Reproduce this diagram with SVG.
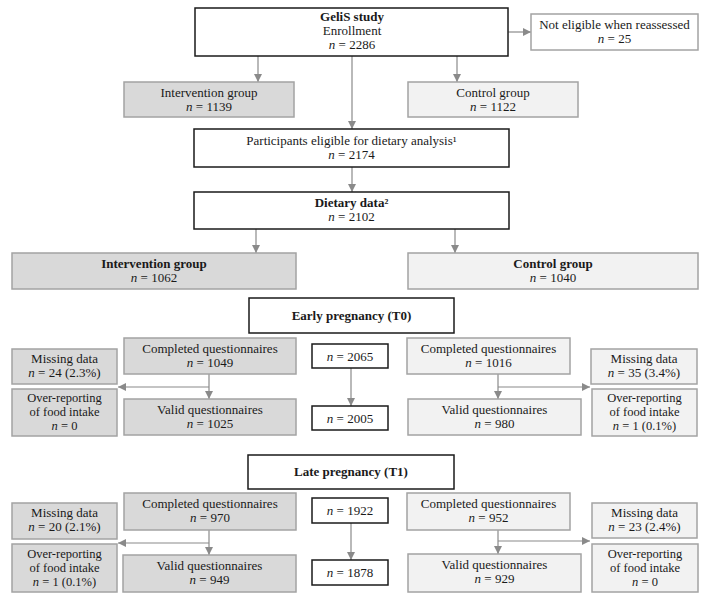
<svg xmlns="http://www.w3.org/2000/svg" width="713" height="597" viewBox="0 0 713 597">
<defs>
<marker id="ah" viewBox="0 0 8 8" refX="8" refY="4" markerWidth="8" markerHeight="8" markerUnits="userSpaceOnUse" orient="auto">
<path d="M0,0 L8,4 L0,8 Z" fill="#8a8a8a"/>
</marker>
<style>
text{font-family:"Liberation Serif","DejaVu Serif",serif;font-size:13px;fill:#1a1a1a;text-anchor:middle}
.b{font-weight:bold}
.i{font-style:italic}
.s{font-size:12.5px}
.wb{fill:#fff;stroke:#1a1a1a;stroke-width:1.5}
.ig{fill:#d9d9d9;stroke:#a3a3a3;stroke-width:1.5}
.cg{fill:#f2f2f2;stroke:#a3a3a3;stroke-width:1.5}
.c{fill:none;stroke:#8a8a8a;stroke-width:1.2}
</style>
</defs>
<rect width="713" height="597" fill="#fff"/>

<g id="connectors">
<path class="c" d="M508,32 H531" marker-end="url(#ah)"/>
<path class="c" d="M258,56 V82" marker-end="url(#ah)"/>
<path class="c" d="M457,56 V82" marker-end="url(#ah)"/>
<path class="c" d="M352,56 V129" marker-end="url(#ah)"/>
<path class="c" d="M352,167 V192" marker-end="url(#ah)"/>
<path class="c" d="M256,229 V253" marker-end="url(#ah)"/>
<path class="c" d="M455,229 V253" marker-end="url(#ah)"/>
<path class="c" d="M209,374 V399" marker-end="url(#ah)"/>
<path class="c" d="M209,387 H118" marker-end="url(#ah)"/>
<path class="c" d="M351,368 V406" marker-end="url(#ah)"/>
<path class="c" d="M498,374 V399" marker-end="url(#ah)"/>
<path class="c" d="M498,387 H590" marker-end="url(#ah)"/>
<path class="c" d="M209,530 V555" marker-end="url(#ah)"/>
<path class="c" d="M209,543 H118" marker-end="url(#ah)"/>
<path class="c" d="M351,523 V560" marker-end="url(#ah)"/>
<path class="c" d="M498,530 V554" marker-end="url(#ah)"/>
<path class="c" d="M498,541 H590" marker-end="url(#ah)"/>
</g>

<g id="gelis"><rect class="wb" x="195" y="8" width="313" height="48"/>
<text x="352" y="21" class="b">GeliS study</text>
<text x="352" y="35">Enrollment</text>
<text x="352" y="49"><tspan class="i">n</tspan> = 2286</text></g>

<g id="not-eligible"><rect class="wb" x="531" y="14" width="167" height="36" style="stroke:#a3a3a3"/>
<text x="614.5" y="29">Not eligible when reassessed</text>
<text x="614.5" y="43"><tspan class="i">n</tspan> = 25</text></g>

<g id="intervention1"><rect class="ig" x="124" y="82" width="170" height="35"/>
<text x="209" y="97">Intervention group</text>
<text x="209" y="111"><tspan class="i">n</tspan> = 1139</text></g>

<g id="control1"><rect class="cg" x="408" y="82" width="170" height="35"/>
<text x="493" y="97">Control group</text>
<text x="493" y="111"><tspan class="i">n</tspan> = 1122</text></g>

<g id="eligible"><rect class="wb" x="194" y="129" width="315" height="38"/>
<text x="351.5" y="145">Participants eligible for dietary analysis¹</text>
<text x="351.5" y="159"><tspan class="i">n</tspan> = 2174</text></g>

<g id="dietary"><rect class="wb" x="194" y="192" width="315" height="37"/>
<text x="351.5" y="207" class="b">Dietary data²</text>
<text x="351.5" y="221"><tspan class="i">n</tspan> = 2102</text></g>

<g id="intervention2"><rect class="ig" x="12" y="253" width="284" height="36"/>
<text x="154" y="268" class="b">Intervention group</text>
<text x="154" y="282"><tspan class="i">n</tspan> = 1062</text></g>

<g id="control2"><rect class="cg" x="408" y="253" width="290" height="36"/>
<text x="553" y="268" class="b">Control group</text>
<text x="553" y="282"><tspan class="i">n</tspan> = 1040</text></g>

<g id="t0"><rect class="wb" x="249" y="298" width="205" height="35"/>
<text x="351.5" y="320" class="b">Early pregnancy (T0)</text></g>

<g id="t0-completed-i"><rect class="ig" x="124" y="338" width="172" height="36"/>
<text x="210" y="353">Completed questionnaires</text>
<text x="210" y="367"><tspan class="i">n</tspan> = 1049</text></g>

<g id="t0-missing-i"><rect class="ig" x="12" y="349" width="105" height="35"/>
<text x="64.5" y="363">Missing data</text>
<text x="64.5" y="377"><tspan class="i">n</tspan> = 24 (2.3%)</text></g>

<g id="t0-over-i"><rect class="ig" x="12" y="389" width="105" height="47"/>
<text x="64.5" y="402" class="s">Over-reporting</text>
<text x="64.5" y="416" class="s">of food intake</text>
<text x="64.5" y="430" class="s"><tspan class="i">n</tspan> = 0</text></g>

<g id="t0-valid-i"><rect class="ig" x="124" y="399" width="172" height="36"/>
<text x="210" y="414">Valid questionnaires</text>
<text x="210" y="428"><tspan class="i">n</tspan> = 1025</text></g>

<g id="t0-total-completed"><rect class="wb" x="312" y="344" width="76" height="24"/>
<text x="350" y="361"><tspan class="i">n</tspan> = 2065</text></g>

<g id="t0-total-valid"><rect class="wb" x="312" y="406" width="76" height="24"/>
<text x="350" y="423"><tspan class="i">n</tspan> = 2005</text></g>

<g id="t0-completed-c"><rect class="cg" x="407" y="338" width="163" height="36"/>
<text x="488.5" y="353">Completed questionnaires</text>
<text x="488.5" y="367"><tspan class="i">n</tspan> = 1016</text></g>

<g id="t0-valid-c"><rect class="cg" x="408" y="399" width="173" height="36"/>
<text x="494.5" y="414">Valid questionnaires</text>
<text x="494.5" y="428"><tspan class="i">n</tspan> = 980</text></g>

<g id="t0-missing-c"><rect class="cg" x="591" y="349" width="106" height="35"/>
<text x="644" y="363">Missing data</text>
<text x="644" y="377"><tspan class="i">n</tspan> = 35 (3.4%)</text></g>

<g id="t0-over-c"><rect class="cg" x="592" y="389" width="105" height="47"/>
<text x="644.5" y="402" class="s">Over-reporting</text>
<text x="644.5" y="416" class="s">of food intake</text>
<text x="644.5" y="430" class="s"><tspan class="i">n</tspan> = 1 (0.1%)</text></g>

<g id="t1"><rect class="wb" x="248" y="455" width="206" height="34"/>
<text x="351" y="476" class="b">Late pregnancy (T1)</text></g>

<g id="t1-completed-i"><rect class="ig" x="124" y="493" width="172" height="37"/>
<text x="210" y="508">Completed questionnaires</text>
<text x="210" y="522"><tspan class="i">n</tspan> = 970</text></g>

<g id="t1-missing-i"><rect class="ig" x="12" y="503" width="105" height="36"/>
<text x="64.5" y="517">Missing data</text>
<text x="64.5" y="531"><tspan class="i">n</tspan> = 20 (2.1%)</text></g>

<g id="t1-over-i"><rect class="ig" x="12" y="544" width="105" height="48"/>
<text x="64.5" y="558" class="s">Over-reporting</text>
<text x="64.5" y="572" class="s">of food intake</text>
<text x="64.5" y="586" class="s"><tspan class="i">n</tspan> = 1 (0.1%)</text></g>

<g id="t1-valid-i"><rect class="ig" x="123" y="555" width="173" height="37"/>
<text x="209.5" y="570">Valid questionnaires</text>
<text x="209.5" y="584"><tspan class="i">n</tspan> = 949</text></g>

<g id="t1-total-completed"><rect class="wb" x="312" y="498" width="76" height="25"/>
<text x="350" y="515"><tspan class="i">n</tspan> = 1922</text></g>

<g id="t1-total-valid"><rect class="wb" x="312" y="560" width="76" height="25"/>
<text x="350" y="577"><tspan class="i">n</tspan> = 1878</text></g>

<g id="t1-completed-c"><rect class="cg" x="407" y="493" width="163" height="37"/>
<text x="488.5" y="508">Completed questionnaires</text>
<text x="488.5" y="522"><tspan class="i">n</tspan> = 952</text></g>

<g id="t1-valid-c"><rect class="cg" x="408" y="554" width="173" height="38"/>
<text x="494.5" y="569">Valid questionnaires</text>
<text x="494.5" y="583"><tspan class="i">n</tspan> = 929</text></g>

<g id="t1-missing-c"><rect class="cg" x="592" y="503" width="105" height="35"/>
<text x="644.5" y="517">Missing data</text>
<text x="644.5" y="531"><tspan class="i">n</tspan> = 23 (2.4%)</text></g>

<g id="t1-over-c"><rect class="cg" x="592" y="544" width="106" height="48"/>
<text x="645" y="558" class="s">Over-reporting</text>
<text x="645" y="572" class="s">of food intake</text>
<text x="645" y="586" class="s"><tspan class="i">n</tspan> = 0</text></g>
</svg>
